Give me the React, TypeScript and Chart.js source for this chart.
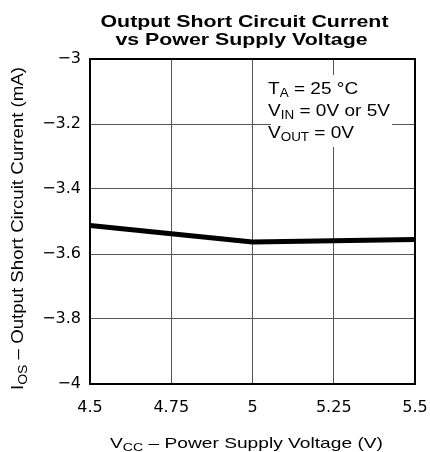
import React, { useEffect, useRef } from 'react';
import { Chart, registerables } from 'chart.js';

Chart.register(...registerables);

const FONT = '"Liberation Sans", Arial, Helvetica, sans-serif';
const TICK_FONT = '"DejaVu Sans", "Liberation Sans", Arial, sans-serif';

// ---- data ----
const vccValues = [4.5, 4.75, 5, 5.25, 5.5];
const iosValues = [-3.512, -3.538, -3.563, -3.559, -3.555];
const xTickValues = [4.5, 4.75, 5, 5.25, 5.5];
const xTickLabels = ['4.5', '4.75', '5', '5.25', '5.5'];
const yTickValues = [-4, -3.8, -3.6, -3.4, -3.2, -3];
const yTickLabels = ['\u22124', '\u22123.8', '\u22123.6', '\u22123.4', '\u22123.2', '\u22123'];
const titleLines = ['Output Short Circuit Current', 'vs Power Supply Voltage'];
type Part = [string, boolean];
const xTitleParts: Part[] = [['V', false], ['CC', true], [' \u2013 Power Supply Voltage (V)', false]];
const yTitleParts: Part[] = [['I', false], ['OS', true], [' \u2013 Output Short Circuit Current (mA)', false]];
const noteLines: Part[][] = [
  [['T', false], ['A', true], [' = 25 \u00B0C', false]],
  [['V', false], ['IN', true], [' = 0V or 5V', false]],
  [['V', false], ['OUT', true], [' = 0V', false]],
];

function measureParts(ctx: CanvasRenderingContext2D, parts: Part[], size: number, weight = '') {
  const subSize = Math.round(size * 0.72);
  return parts.map(([t, sub]) => {
    ctx.font = `${weight}${sub ? subSize : size}px ${FONT}`;
    return ctx.measureText(t).width;
  });
}

// draws text parts (with subscripts); sx is a horizontal stretch factor
function drawParts(
  ctx: CanvasRenderingContext2D,
  parts: Part[],
  x: number,
  y: number,
  size: number,
  align: 'left' | 'center',
  sx: number,
  weight = ''
) {
  const subSize = Math.round(size * 0.72);
  const widths = measureParts(ctx, parts, size, weight);
  const total = widths.reduce((a, b) => a + b, 0);
  ctx.save();
  ctx.translate(x, y);
  ctx.scale(sx, 1);
  ctx.textAlign = 'left';
  ctx.textBaseline = 'alphabetic';
  let cx = align === 'center' ? -total / 2 : 0;
  parts.forEach(([t, sub], i) => {
    ctx.font = `${weight}${sub ? subSize : size}px ${FONT}`;
    ctx.fillText(t, cx, sub ? size * 0.22 : 0);
    cx += widths[i];
  });
  ctx.restore();
}

const decorPlugin = {
  id: 'decor',
  afterDatasetsDraw(chart: any) {
    const { ctx, chartArea } = chart;
    ctx.save();
    const bx = chartArea.right - 144;
    const by = chartArea.top + 16;
    ctx.fillStyle = '#ffffff';
    ctx.fillRect(bx, by, 121, 72);
    ctx.fillStyle = '#000000';
    noteLines.forEach((parts, i) => {
      drawParts(ctx, parts, bx - 3, chartArea.top + 34.5 + i * 22, 17, 'left', 1.12);
    });
    ctx.restore();
  },
  afterDraw(chart: any) {
    const { ctx, chartArea } = chart;
    ctx.save();
    ctx.strokeStyle = '#000000';
    ctx.lineWidth = 2;
    ctx.strokeRect(chartArea.left, chartArea.top, chartArea.right - chartArea.left, chartArea.bottom - chartArea.top);
    ctx.fillStyle = '#000000';
    const mid = (chartArea.left + chartArea.right) / 2;
    // title
    const w1 = measureParts(ctx, [[titleLines[0], false]], 17, 'bold ')[0];
    const tsx = 288 / w1;
    drawParts(ctx, [[titleLines[0], false]], mid - 8, 27, 17, 'center', tsx, 'bold ');
    drawParts(ctx, [[titleLines[1], false]], mid - 11, 44.5, 17, 'center', tsx, 'bold ');
    // x axis title
    const wx = measureParts(ctx, xTitleParts, 15).reduce((a, b) => a + b, 0);
    drawParts(ctx, xTitleParts, mid - 6, 448, 15, 'center', 273 / wx);
    // y axis title
    const wy = measureParts(ctx, yTitleParts, 16).reduce((a, b) => a + b, 0);
    ctx.translate(23, (chartArea.top + chartArea.bottom) / 2 + 7);
    ctx.rotate(-Math.PI / 2);
    drawParts(ctx, yTitleParts, 0, 0, 16, 'center', 323 / wy);
    ctx.restore();
  },
};

export default function App() {
  const ref = useRef<HTMLCanvasElement>(null);
  useEffect(() => {
    if (!ref.current) return;
    const chart = new Chart(ref.current, {
      type: 'line',
      data: {
        datasets: [
          {
            data: vccValues.map((v, i) => ({ x: v, y: iosValues[i] })),
            borderColor: '#000000',
            borderWidth: 5,
            pointRadius: 0,
            tension: 0,
            fill: false,
          },
        ],
      },
      options: {
        animation: false,
        responsive: false,
        devicePixelRatio: 1,
        layout: { padding: { top: 59, right: 15, left: 0, bottom: 0 } },
        plugins: { legend: { display: false }, tooltip: { enabled: false }, title: { display: false } },
        scales: {
          x: {
            type: 'linear',
            min: 4.5,
            max: 5.5,
            afterFit: (s: any) => {
              s.height = 68;
              s.paddingLeft = 0;
              s.paddingRight = 0;
            },
            afterBuildTicks: (s: any) => { s.ticks = xTickValues.map((v) => ({ value: v })); },
            ticks: {
              color: '#000000',
              font: { family: TICK_FONT, size: 16 },
              padding: 14,
              maxRotation: 0,
              callback: (v: any) => xTickLabels[xTickValues.indexOf(Number(v))] ?? '',
            },
            grid: { color: '#555555', lineWidth: 1, drawTicks: false },
            border: { display: false },
          },
          y: {
            type: 'linear',
            min: -4,
            max: -3,
            afterFit: (s: any) => {
              s.width = 90;
              s.paddingTop = 0;
              s.paddingBottom = 0;
            },
            afterBuildTicks: (s: any) => { s.ticks = yTickValues.map((v) => ({ value: v })); },
            ticks: {
              color: '#000000',
              font: { family: TICK_FONT, size: 16 },
              padding: 9,
              callback: (v: any) => {
                const i = yTickValues.findIndex((t) => Math.abs(t - Number(v)) < 1e-6);
                return i >= 0 ? yTickLabels[i] : '';
              },
            },
            grid: { color: '#555555', lineWidth: 1, drawTicks: false },
            border: { display: false },
          },
        },
      },
      plugins: [decorPlugin],
    });
    return () => chart.destroy();
  }, []);
  return (
    <div style={{ position: 'absolute', left: 0, top: 0, width: 430, height: 452, background: '#fff' }}>
      <canvas ref={ref} width={430} height={452} />
    </div>
  );
}
